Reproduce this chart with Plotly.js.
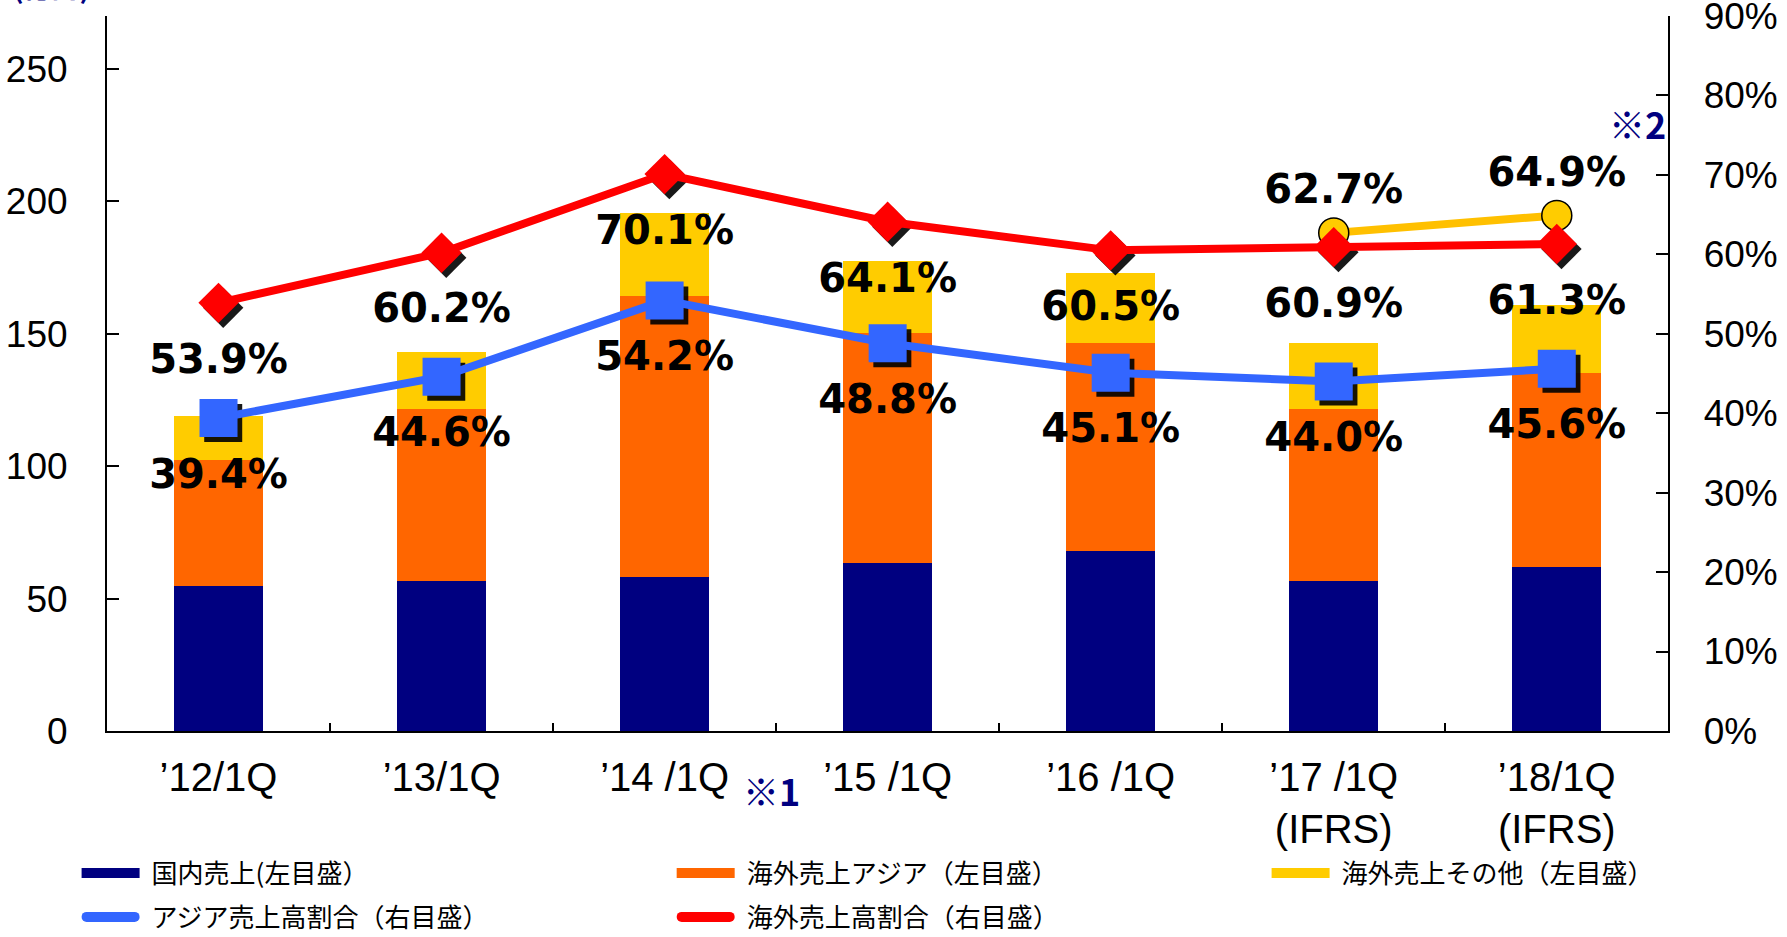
<!DOCTYPE html>
<html>
<head>
<meta charset="utf-8">
<script src="https://cdn.plot.ly/plotly-3.0.1.min.js"></script>
<style>html,body{margin:0;padding:0;background:#fff;}#chart{width:1787px;height:937px;}</style>
</head>
<body>
<div id="chart"></div>
<script>
// ---- data ----
const categories = ["’12/1Q", "’13/1Q", "’14 /1Q", "’15 /1Q", "’16 /1Q", "’17 /1Q<br>(IFRS)", "’18/1Q<br>(IFRS)"];
const domesticSales = [54.7, 56.5, 58.2, 63.4, 68.1, 56.5, 62.0];     // 国内売上 (億円)
const asiaSales     = [47.5, 65.1, 106.0, 87.0, 78.5, 65.1, 73.3];    // 海外売上アジア (億円)
const otherSales    = [16.8, 21.4, 31.5, 27.2, 26.2, 25.0, 25.5];     // 海外売上その他 (億円)
const asiaRatio     = [39.4, 44.6, 54.2, 48.8, 45.1, 44.0, 45.6];     // アジア売上高割合 (%)
const overseasRatio = [53.9, 60.2, 70.1, 64.1, 60.5, 60.9, 61.3];     // 海外売上高割合 (%)
const ifrsCategories = categories.slice(5);
const ifrsOverseasRatio = [62.7, 64.9];                                // IFRS basis (※2)

const seriesNames = {
  domestic: "国内売上(左目盛）",
  asia: "海外売上アジア（左目盛）",
  other: "海外売上その他（左目盛）",
  asiaRatio: "アジア売上高割合（右目盛）",
  overseasRatio: "海外売上高割合（右目盛）"
};

const C = {navy:'#000080', orange:'#FF6600', yellow:'#FFCC00', yline:'#FFC000', blue:'#3366FF', red:'#FF0000'};
const pct = a => a.map(v => v.toFixed(1) + '%');
const labelFont = {family:'DejaVu Sans, Liberation Sans, sans-serif', size:40, color:'#000', weight:'bold'};

const traces = [
  {type:'bar', x:categories, y:domesticSales, marker:{color:C.navy}, showlegend:false, xaxis:'x', yaxis:'y'},
  {type:'bar', x:categories, y:asiaSales, marker:{color:C.orange}, showlegend:false, xaxis:'x', yaxis:'y'},
  {type:'bar', x:categories, y:otherSales, marker:{color:C.yellow}, showlegend:false, xaxis:'x', yaxis:'y'},
  // IFRS overseas ratio (yellow)
  {type:'scatter', mode:'lines+markers+text', x:ifrsCategories, y:ifrsOverseasRatio, xaxis:'x', yaxis:'y2',
   line:{color:C.yline, width:8}, marker:{symbol:'circle', size:30, color:C.yellow, line:{color:'#000', width:1.5}},
   text:pct(ifrsOverseasRatio), textposition:'top center', textfont:labelFont, cliponaxis:false, showlegend:false},
  // marker shadows (offset axes)
  {type:'scatter', mode:'markers', x:categories, y:overseasRatio, xaxis:'x3', yaxis:'y3',
   marker:{symbol:'diamond', size:31, color:'rgba(0,0,0,0.9)'}, showlegend:false, cliponaxis:false},
  {type:'scatter', mode:'markers', x:categories, y:asiaRatio, xaxis:'x3', yaxis:'y3',
   marker:{symbol:'square', size:38, color:'rgba(0,0,0,0.9)'}, showlegend:false, cliponaxis:false},
  // ratio lines
  {type:'scatter', mode:'lines+markers', x:categories, y:asiaRatio, xaxis:'x4', yaxis:'y4',
   line:{color:C.blue, width:8}, marker:{symbol:'square', size:38, color:C.blue}, cliponaxis:false, showlegend:false},
  {type:'scatter', mode:'lines+markers', x:categories, y:overseasRatio, xaxis:'x4', yaxis:'y4',
   line:{color:C.red, width:8}, marker:{symbol:'diamond', size:31, color:C.red}, cliponaxis:false, showlegend:false},
  // value labels below the ratio markers
  {type:'scatter', mode:'markers+text', x:categories, y:asiaRatio, xaxis:'x4', yaxis:'y4',
   marker:{size:62, color:'rgba(0,0,0,0)'}, text:pct(asiaRatio), textposition:'bottom center', textfont:labelFont,
   cliponaxis:false, showlegend:false},
  {type:'scatter', mode:'markers+text', x:categories, y:overseasRatio, xaxis:'x4', yaxis:'y4',
   marker:{size:62, color:'rgba(0,0,0,0)'}, text:pct(overseasRatio), textposition:'bottom center', textfont:labelFont,
   cliponaxis:false, showlegend:false},
  // legend entries
  {type:'scatter', mode:'lines', x:[null], y:[null], name:seriesNames.domestic, line:{color:C.navy, width:10}, legend:'legend'},
  {type:'scatter', mode:'lines', x:[null], y:[null], name:seriesNames.asia, line:{color:C.orange, width:10}, legend:'legend2'},
  {type:'scatter', mode:'lines', x:[null], y:[null], name:seriesNames.other, line:{color:C.yellow, width:10}, legend:'legend3'},
  {type:'scatter', mode:'lines', x:[null], y:[null], name:seriesNames.asiaRatio, line:{color:C.blue, width:10}, legend:'legend4'},
  {type:'scatter', mode:'lines', x:[null], y:[null], name:seriesNames.overseasRatio, line:{color:C.red, width:10}, legend:'legend5'}
];

const axisCommon = {showline:true, linecolor:'#000', linewidth:2, showgrid:false, zeroline:false,
  ticks:'inside', tickcolor:'#000', tickwidth:2, ticklen:12, fixedrange:true, ticklabeloverflow:'allow'};
const tickFont = {family:'Liberation Sans, Arial, sans-serif', size:37, color:'#000'};
const legendFont = {family:'Noto Sans CJK JP, sans-serif', size:26, color:'#000'};
function mkLegend(x, y) {
  return {orientation:'h', x:x, xanchor:'left', y:y, yanchor:'middle', font:legendFont, itemwidth:62,
    bgcolor:'rgba(0,0,0,0)', borderwidth:0, itemclick:false, itemdoubleclick:false};
}
const row1 = -0.1903, row2 = -0.2514;

const layout = {
  width:1787, height:937,
  margin:{l:107, r:114, t:16, b:201, pad:0, autoexpand:false},
  paper_bgcolor:'#fff', plot_bgcolor:'rgba(0,0,0,0)',
  barmode:'stack', bargap:0.6,
  showlegend:true, hovermode:false,
  xaxis: Object.assign({}, axisCommon, {type:'category', domain:[0,0.997], range:[-0.5,6.5], anchor:'y',
    tickson:'boundaries', ticklen:8, tickfont:{family:'Liberation Sans, Arial, sans-serif', size:40, color:'#000'}, ticklabelstandoff:10}),
  yaxis: Object.assign({}, axisCommon, {domain:[0.007,1], range:[0,270], tick0:0, dtick:50, anchor:'x',
    tickfont:tickFont, ticklabelstandoff:30}),
  yaxis2: Object.assign({}, axisCommon, {overlaying:'y', side:'right', anchor:'x', range:[0,90.001], tick0:0, dtick:10,
    ticksuffix:'%', tickfont:tickFont, ticklabelstandoff:26}),
  xaxis3: {type:'category', domain:[0.003,1], range:[-0.5,6.5], anchor:'y3', visible:false, fixedrange:true},
  yaxis3: {domain:[0,0.993], range:[0,90.001], anchor:'x3', visible:false, fixedrange:true},
  xaxis4: {type:'category', domain:[0,0.997], range:[-0.5,6.5], anchor:'y4', visible:false, fixedrange:true},
  yaxis4: {domain:[0.007,1], range:[0,90.001], anchor:'x4', visible:false, fixedrange:true},
  legend:  mkLegend(-0.0175, row1),
  legend2: mkLegend(0.3625, row1),
  legend3: mkLegend(0.7424, row1),
  legend4: mkLegend(-0.0175, row2),
  legend5: mkLegend(0.3625, row2),
  annotations: [
    {text:'(億円)', xref:'paper', yref:'paper', x:-0.0615, y:1.011, xanchor:'left', yanchor:'bottom', showarrow:false,
     font:{family:'Noto Sans CJK JP, sans-serif', size:28, color:C.navy, weight:'bold'}},
    {text:'※1', xref:'paper', yref:'paper', x:0.405, y:-0.075, xanchor:'left', yanchor:'middle', showarrow:false,
     font:{family:'Noto Sans CJK JP, sans-serif', size:36, color:C.navy, weight:'bold'}},
    {text:'※2', xref:'paper', yref:'paper', x:0.958, y:0.852, xanchor:'left', yanchor:'middle', showarrow:false,
     font:{family:'Noto Sans CJK JP, sans-serif', size:36, color:C.navy, weight:'bold'}}
  ]
};

Plotly.newPlot('chart', traces, layout, {displayModeBar:false, staticPlot:true}).then(function(gd){
  function fixLegend(){
    document.querySelectorAll('.legendlines path').forEach(function(p){
      var s = (p.style.stroke || '').replace(/\s/g,'');
      var isLine = s.indexOf('51,102,255') >= 0 || s.indexOf('255,0,0') >= 0;
      if(isLine){ p.setAttribute('d','M7,0h48'); p.style.strokeLinecap = 'round'; }
      else { p.setAttribute('d','M2,0h58'); p.style.strokeLinecap = 'butt'; }
    });
  }
  fixLegend();
  setTimeout(fixLegend, 50);
});
</script>
</body>
</html>
